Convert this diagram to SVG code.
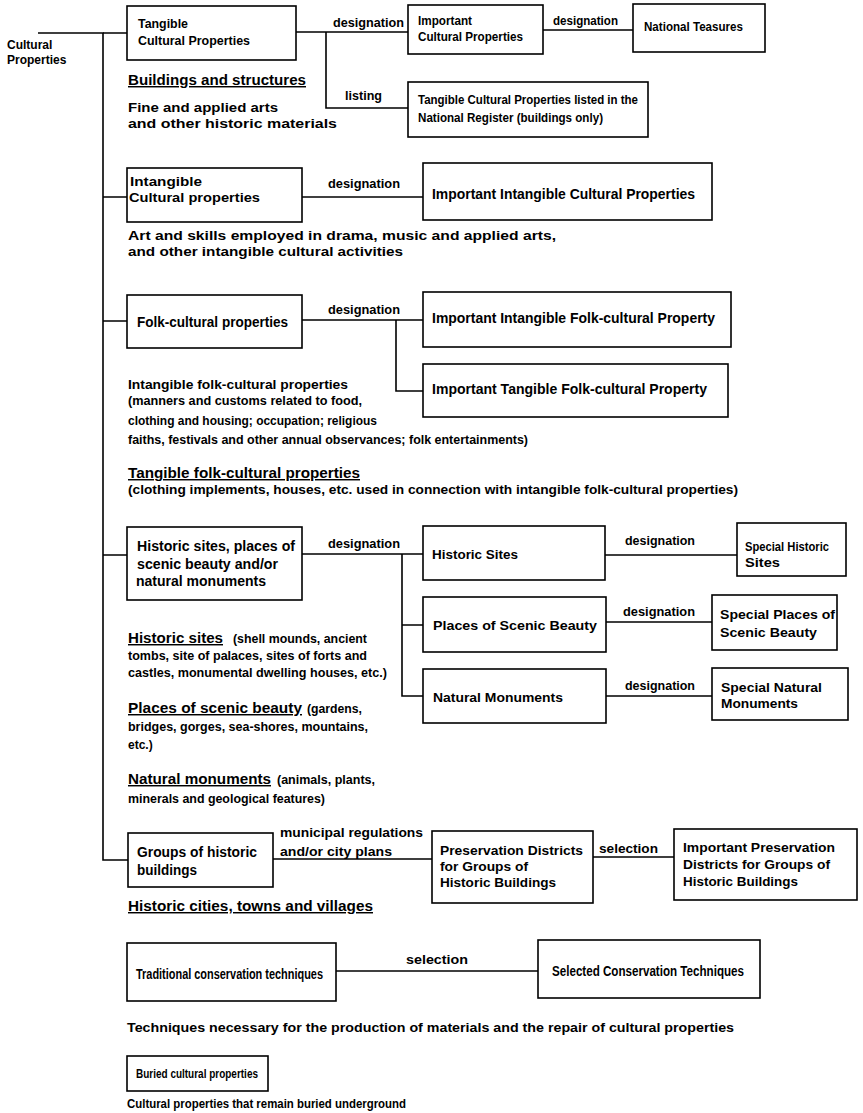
<svg xmlns="http://www.w3.org/2000/svg" width="863" height="1113" viewBox="0 0 863 1113">
<style>
rect{fill:#fff;stroke:#000;stroke-width:1.6}
.c path{fill:none;stroke:#000;stroke-width:1.6}
text{font-family:"Liberation Sans",Arial,Helvetica,sans-serif;font-weight:bold;fill:#000;font-size:13px}
.s{font-size:12px}
.l{font-size:12.5px}
.d{font-size:13.5px}
.h{font-size:14.5px;text-decoration:underline}
.big{font-size:14px}
</style>
<g class="c" id="connectors">
<path d="M38,33 H103 V860 H128"/>
<path d="M103,33 H127 M103,197 H127 M103,321 H127 M103,555 H127"/>
<path d="M296,32 H408 M326,32 V108 H408 M543,30 H633"/>
<path d="M302,197 H423"/>
<path d="M302,320 H423 M396,320 V391 H423"/>
<path d="M302,554 H423 M402,554 V696 H423 M402,625 H423 M605,555 H737 M606,622 H712 M606,696 H712"/>
<path d="M273,859 H432 M593,857 H674"/>
<path d="M336,971 H538"/>
<text class="l" x="333" y="27" textLength="71" lengthAdjust="spacingAndGlyphs">designation</text>
<text class="l" x="345" y="100" textLength="37" lengthAdjust="spacingAndGlyphs">listing</text>
<text class="l" x="553" y="25" textLength="65" lengthAdjust="spacingAndGlyphs">designation</text>
<text class="l" x="328" y="188" textLength="72" lengthAdjust="spacingAndGlyphs">designation</text>
<text class="l" x="328" y="314" textLength="72" lengthAdjust="spacingAndGlyphs">designation</text>
<text class="l" x="328" y="548" textLength="72" lengthAdjust="spacingAndGlyphs">designation</text>
<text class="l" x="625" y="545" textLength="70" lengthAdjust="spacingAndGlyphs">designation</text>
<text class="l" x="623" y="616" textLength="72" lengthAdjust="spacingAndGlyphs">designation</text>
<text class="l" x="625" y="690" textLength="70" lengthAdjust="spacingAndGlyphs">designation</text>
<text class="l" x="280" y="837" textLength="143" lengthAdjust="spacingAndGlyphs">municipal regulations</text>
<text class="l" x="280" y="856" textLength="112" lengthAdjust="spacingAndGlyphs">and/or city plans</text>
<text class="l" x="599" y="853" textLength="59" lengthAdjust="spacingAndGlyphs">selection</text>
<text class="l" x="406" y="964" textLength="62" lengthAdjust="spacingAndGlyphs">selection</text>
</g>
<g id="n-root">
<text class="s" x="7" y="49">Cultural</text>
<text class="s" x="7" y="64">Properties</text>
</g>
<g id="n-tangible">
<rect x="127" y="6" width="169" height="54"/>
<text x="138" y="28" textLength="50" lengthAdjust="spacingAndGlyphs">Tangible</text>
<text x="138" y="45" textLength="112" lengthAdjust="spacingAndGlyphs">Cultural Properties</text>
</g>
<g id="n-important">
<rect x="408" y="5" width="135" height="49"/>
<text x="418" y="25" textLength="54" lengthAdjust="spacingAndGlyphs">Important</text>
<text x="418" y="41" textLength="105" lengthAdjust="spacingAndGlyphs">Cultural Properties</text>
</g>
<g id="n-national">
<rect x="633" y="4" width="132" height="48"/>
<text x="644" y="31" textLength="99" lengthAdjust="spacingAndGlyphs">National Teasures</text>
</g>
<g id="n-listed">
<rect x="408" y="82" width="240" height="55"/>
<text x="418" y="104" textLength="220" lengthAdjust="spacingAndGlyphs">Tangible Cultural Properties listed in the</text>
<text x="418" y="122" textLength="185" lengthAdjust="spacingAndGlyphs">National Register (buildings only)</text>
</g>
<g id="n-intangible">
<rect x="127" y="168" width="175" height="54"/>
<text x="130" y="186" textLength="72" lengthAdjust="spacingAndGlyphs">Intangible</text>
<text x="129" y="202" textLength="131" lengthAdjust="spacingAndGlyphs">Cultural properties</text>
</g>
<g id="n-imp-intangible">
<rect x="423" y="163" width="289" height="57"/>
<text class="big" x="432" y="199" textLength="263" lengthAdjust="spacingAndGlyphs">Important Intangible Cultural Properties</text>
</g>
<g id="n-folk">
<rect x="127" y="295" width="175" height="53"/>
<text class="big" x="137" y="327" textLength="151" lengthAdjust="spacingAndGlyphs">Folk-cultural properties</text>
</g>
<g id="n-imp-int-folk">
<rect x="423" y="292" width="308" height="55"/>
<text class="big" x="432" y="323" textLength="283" lengthAdjust="spacingAndGlyphs">Important Intangible Folk-cultural Property</text>
</g>
<g id="n-imp-tan-folk">
<rect x="423" y="364" width="305" height="53"/>
<text class="big" x="432" y="394" textLength="275" lengthAdjust="spacingAndGlyphs">Important Tangible Folk-cultural Property</text>
</g>
<g id="n-historic">
<rect x="127" y="527" width="175" height="73"/>
<text class="big" x="137" y="551" textLength="158" lengthAdjust="spacingAndGlyphs">Historic sites, places of</text>
<text class="big" x="137" y="569" textLength="141" lengthAdjust="spacingAndGlyphs">scenic beauty and/or</text>
<text class="big" x="136" y="586" textLength="130" lengthAdjust="spacingAndGlyphs">natural monuments</text>
</g>
<g id="n-hsites">
<rect x="423" y="526" width="182" height="54"/>
<text x="432" y="559" textLength="86" lengthAdjust="spacingAndGlyphs">Historic Sites</text>
</g>
<g id="n-special-hs">
<rect x="737" y="523" width="109" height="53"/>
<text x="745" y="551" style="font-size:13.5px" textLength="84" lengthAdjust="spacingAndGlyphs">Special Historic</text>
<text x="745" y="567" style="font-size:13.5px" textLength="35" lengthAdjust="spacingAndGlyphs">Sites</text>
</g>
<g id="n-scenic">
<rect x="423" y="597" width="183" height="55"/>
<text x="433" y="630" textLength="164" lengthAdjust="spacingAndGlyphs">Places of Scenic Beauty</text>
</g>
<g id="n-special-scenic">
<rect x="712" y="595" width="125" height="55"/>
<text x="720" y="619" textLength="115" lengthAdjust="spacingAndGlyphs">Special Places of</text>
<text x="720" y="637" textLength="97" lengthAdjust="spacingAndGlyphs">Scenic Beauty</text>
</g>
<g id="n-natural">
<rect x="423" y="669" width="183" height="54"/>
<text x="433" y="702" textLength="130" lengthAdjust="spacingAndGlyphs">Natural Monuments</text>
</g>
<g id="n-special-natural">
<rect x="712" y="668" width="136" height="52"/>
<text x="721" y="692" textLength="101" lengthAdjust="spacingAndGlyphs">Special Natural</text>
<text x="721" y="708" textLength="77" lengthAdjust="spacingAndGlyphs">Monuments</text>
</g>
<g id="n-groups">
<rect x="128" y="833" width="145" height="54"/>
<text class="big" x="137" y="857" textLength="120" lengthAdjust="spacingAndGlyphs">Groups of historic</text>
<text class="big" x="137" y="875" textLength="60" lengthAdjust="spacingAndGlyphs">buildings</text>
</g>
<g id="n-pres">
<rect x="432" y="831" width="161" height="72"/>
<text x="440" y="855" textLength="143" lengthAdjust="spacingAndGlyphs">Preservation Districts</text>
<text x="440" y="871" textLength="88" lengthAdjust="spacingAndGlyphs">for Groups of</text>
<text x="440" y="887" textLength="116" lengthAdjust="spacingAndGlyphs">Historic Buildings</text>
</g>
<g id="n-imp-pres">
<rect x="674" y="829" width="183" height="71"/>
<text x="683" y="852" textLength="152" lengthAdjust="spacingAndGlyphs">Important Preservation</text>
<text x="683" y="869" textLength="147" lengthAdjust="spacingAndGlyphs">Districts for Groups of</text>
<text x="683" y="886" textLength="115" lengthAdjust="spacingAndGlyphs">Historic Buildings</text>
</g>
<g id="n-traditional">
<rect x="127" y="943" width="209" height="58"/>
<text x="136" y="979" style="font-size:14px" textLength="187" lengthAdjust="spacingAndGlyphs">Traditional conservation techniques</text>
</g>
<g id="n-selected">
<rect x="538" y="940" width="222" height="58"/>
<text x="552" y="976" style="font-size:14px" textLength="192" lengthAdjust="spacingAndGlyphs">Selected Conservation Techniques</text>
</g>
<g id="n-buried">
<rect x="127" y="1056" width="141" height="35"/>
<text x="136" y="1078" style="font-size:13.5px" textLength="122" lengthAdjust="spacingAndGlyphs">Buried cultural properties</text>
</g>
<g id="notes">
<text class="h" x="128" y="85" textLength="178" lengthAdjust="spacingAndGlyphs">Buildings and structures</text>
<text class="d" x="128" y="112" textLength="150" lengthAdjust="spacingAndGlyphs">Fine and applied arts</text>
<text class="d" x="128" y="128" textLength="209" lengthAdjust="spacingAndGlyphs">and other historic materials</text>
<text class="d" x="128" y="240" textLength="428" lengthAdjust="spacingAndGlyphs">Art and skills employed in drama, music and applied arts,</text>
<text class="d" x="128" y="256" textLength="275" lengthAdjust="spacingAndGlyphs">and other intangible cultural activities</text>
<text class="d" x="128" y="389" textLength="220" lengthAdjust="spacingAndGlyphs">Intangible folk-cultural properties</text>
<text class="s" x="128" y="405" textLength="234" lengthAdjust="spacingAndGlyphs">(manners and customs related to food,</text>
<text class="s" x="128" y="425" textLength="249" lengthAdjust="spacingAndGlyphs">clothing and housing; occupation; religious</text>
<text class="s" x="128" y="444" textLength="400" lengthAdjust="spacingAndGlyphs">faiths, festivals and other annual observances; folk entertainments)</text>
<text class="h" x="128" y="478" textLength="232" lengthAdjust="spacingAndGlyphs">Tangible folk-cultural properties</text>
<text class="s" x="128" y="494" textLength="610" lengthAdjust="spacingAndGlyphs">(clothing implements, houses, etc. used in connection with intangible folk-cultural properties)</text>
<text class="h" x="128" y="643" textLength="95" lengthAdjust="spacingAndGlyphs">Historic sites</text>
<text class="s" x="233" y="643" textLength="134" lengthAdjust="spacingAndGlyphs">(shell mounds, ancient</text>
<text class="s" x="128" y="660" textLength="239" lengthAdjust="spacingAndGlyphs">tombs, site of palaces, sites of forts and</text>
<text class="s" x="128" y="677" textLength="259" lengthAdjust="spacingAndGlyphs">castles, monumental dwelling houses, etc.)</text>
<text class="h" x="128" y="713" textLength="174" lengthAdjust="spacingAndGlyphs">Places of scenic beauty</text>
<text class="s" x="307" y="713" textLength="55" lengthAdjust="spacingAndGlyphs">(gardens,</text>
<text class="s" x="128" y="731" textLength="240" lengthAdjust="spacingAndGlyphs">bridges, gorges, sea-shores, mountains,</text>
<text class="s" x="128" y="749">etc.)</text>
<text class="h" x="128" y="784" textLength="143" lengthAdjust="spacingAndGlyphs">Natural monuments</text>
<text class="s" x="277" y="784" textLength="98" lengthAdjust="spacingAndGlyphs">(animals, plants,</text>
<text class="s" x="128" y="803" textLength="197" lengthAdjust="spacingAndGlyphs">minerals and geological features)</text>
<text class="h" x="128" y="911" textLength="245" lengthAdjust="spacingAndGlyphs">Historic cities, towns and villages</text>
<text class="l" x="127" y="1032" textLength="607" lengthAdjust="spacingAndGlyphs">Techniques necessary for the production of materials and the repair of cultural properties</text>
<text class="s" x="127" y="1108" textLength="279" lengthAdjust="spacingAndGlyphs">Cultural properties that remain buried underground</text>
</g>
</svg>
